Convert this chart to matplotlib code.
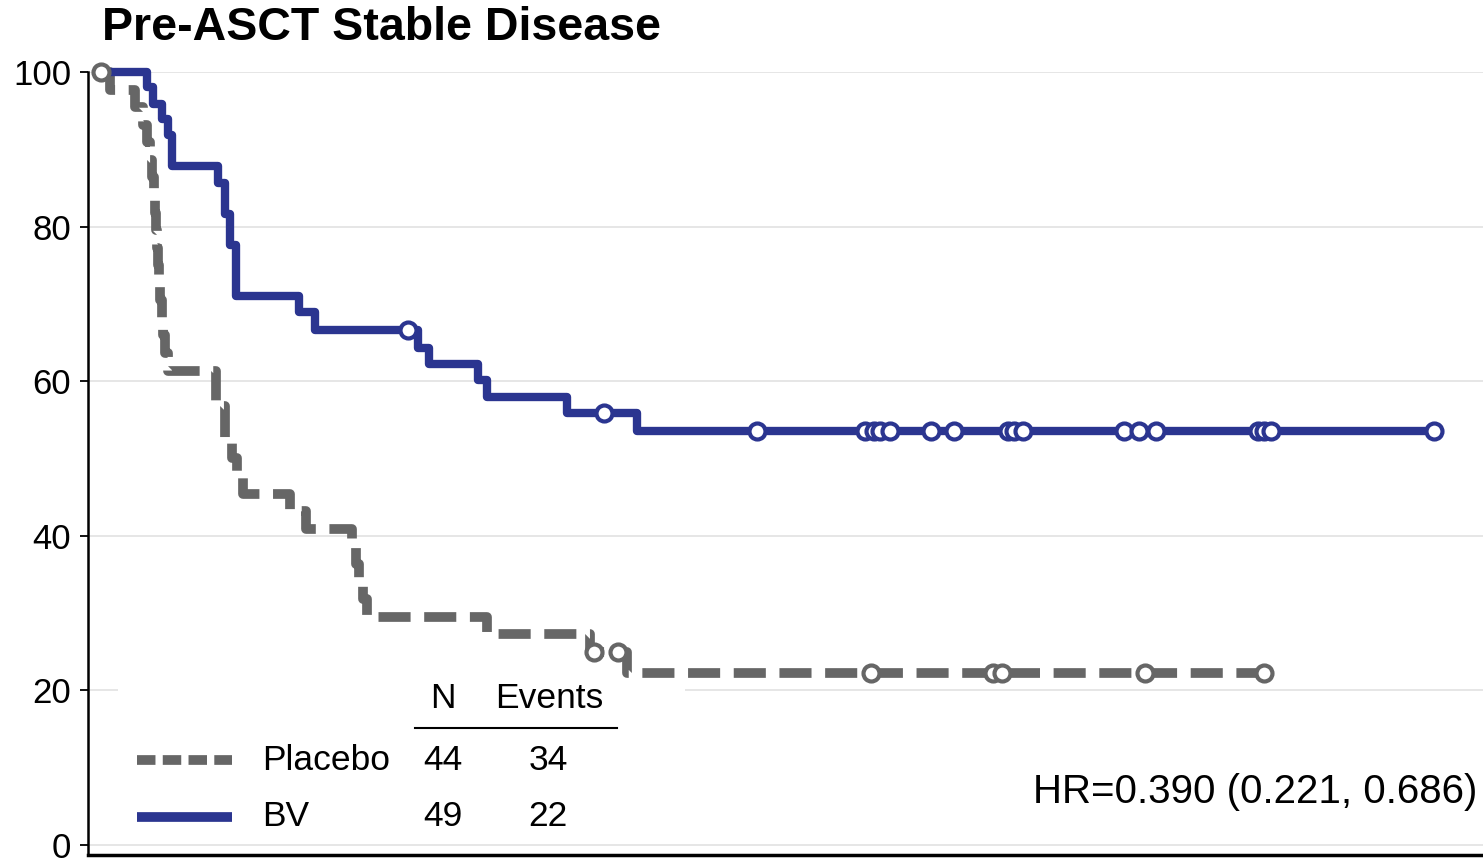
import numpy as np
import matplotlib.pyplot as plt
from matplotlib.lines import Line2D
from matplotlib.patches import Rectangle

plt.rcParams['font.family'] = ['Liberation Sans', 'DejaVu Sans']

### Data (time in months, survival in %)
# BV arm: event times and survival after each event
bv_event_t = [1.84, 2.08, 2.44, 2.68, 2.84, 4.68, 4.96, 5.16, 5.40,
              7.92, 8.56, 12.68, 13.12, 15.08, 15.44, 18.64, 21.44]
bv_surv = [98.0, 95.9, 93.9, 91.8, 87.8, 85.7, 81.6, 77.6, 71.0,
           69.0, 66.6, 64.3, 62.2, 60.1, 57.9, 55.9, 53.6]
bv_censor_t = [12.28, 20.12, 26.24, 30.56, 30.92, 31.16, 31.56, 33.20, 34.12,
               36.28, 36.52, 36.88, 40.92, 41.52, 42.20, 46.28, 46.52, 46.80, 53.32]

# Placebo arm
pl_event_t = [0.36, 1.36, 1.68, 1.84, 1.96, 2.04, 2.12, 2.16, 2.20, 2.24, 2.28,
              2.32, 2.36, 2.44, 2.48, 2.56, 2.68, 4.60, 4.96, 5.24, 5.44, 5.68,
              7.56, 8.20, 10.04, 10.20, 10.32, 10.48, 10.64, 15.44, 19.56, 21.04]
pl_surv = [97.73, 95.45, 93.18, 90.91, 88.64, 86.36, 84.09, 81.82, 79.55, 77.27,
           75.0, 72.73, 70.45, 68.18, 65.91, 63.64, 61.36, 56.82, 52.27, 50.0,
           47.73, 45.45, 43.18, 40.91, 38.64, 36.36, 34.09, 31.82, 29.55, 27.27,
           25.0, 22.22]
pl_censor_t = [0.0, 19.72, 20.68, 30.80, 35.68, 36.04, 41.76, 46.52]

groups = ['Placebo', 'BV']
n_pat = [44, 49]
n_events = [34, 22]
hr_text = 'HR=0.390 (0.221, 0.686)'
title = 'Pre-ASCT Stable Disease'

blue = '#2b3590'
grey = '#666666'

W, H = 1483, 858
fig = plt.figure(figsize=(W / 100, H / 100), dpi=100)
ax = fig.add_axes([88 / W, 3 / H, 1 - 88 / W, (855 - 72) / H])


def km_curve(ev_t, surv, cens_t):
    t = np.concatenate([[0.0], ev_t, [max(cens_t)]])
    s = np.concatenate([[100.0], surv, [surv[-1]]])
    idx = np.searchsorted(t[:-1], cens_t, side='right') - 1
    return t, s, s[idx]


# Placebo
t, s, cs = km_curve(pl_event_t, pl_surv, pl_censor_t)
ax.plot(t, s, drawstyle='steps-post', color=grey, lw=7, dashes=(3.3, 1.4),
        solid_capstyle='butt', dash_capstyle='butt', clip_on=False, zorder=3)
ax.plot(pl_censor_t, cs, 'o', ms=11.5, mfc='white', mec=grey, mew=3,
        clip_on=False, zorder=4)

# BV
t, s, cs = km_curve(bv_event_t, bv_surv, bv_censor_t)
ax.plot(t, s, drawstyle='steps-post', color=blue, lw=6, clip_on=False, zorder=3)
ax.plot(bv_censor_t, cs, 'o', ms=11.5, mfc='white', mec=blue, mew=3,
        clip_on=False, zorder=4)

ax.set_xlim(-0.52, 55.28)
ax.set_ylim(-1.3, 100)
ax.set_yticks([0, 20, 40, 60, 80, 100])
ax.tick_params(axis='y', labelsize=25, length=6, width=1.3, pad=6)
ax.set_xticks([])
ax.yaxis.grid(True, color='#e2e2e2', lw=1.2)
ax.set_axisbelow(True)
for sp in ['top', 'right']:
    ax.spines[sp].set_visible(False)
ax.spines['left'].set_linewidth(1.8)
ax.spines['bottom'].set_linewidth(2.5)

# white box behind the legend table
ax.add_patch(Rectangle(((118 - 88) / (W - 88), 0.02), (685 - 118) / (W - 88),
                       (855 - 686) / (855 - 72) - 0.02, transform=ax.transAxes,
                       facecolor='white', edgecolor='none', zorder=1))


def fx(px):
    return px / W


def fy(py):
    return 1 - py / H


# legend table
fs = 25.5
fig.text(fx(443), fy(699), 'N', fontsize=fs, ha='center', va='center')
fig.text(fx(549), fy(699), 'Events', fontsize=fs, ha='center', va='center')
fig.add_artist(Line2D([fx(415), fx(617)], [fy(728), fy(728)], color='black', lw=1.5))
row_y = [760, 817]
styles = [dict(color=grey, lw=7, dashes=(1.9, 0.75), dash_capstyle='butt'),
          dict(color=blue, lw=7, solid_capstyle='butt')]
for g, n, e, y, st in zip(groups, n_pat, n_events, row_y, styles):
    fig.add_artist(Line2D([fx(137), fx(232)], [fy(y), fy(y)], **st))
    fig.text(fx(262), fy(y), g, fontsize=fs, ha='left', va='center')
    fig.text(fx(443), fy(y), str(n), fontsize=fs, ha='center', va='center')
    fig.text(fx(548), fy(y), str(e), fontsize=fs, ha='center', va='center')

fig.text(fx(1477), fy(792), hr_text, fontsize=29, ha='right', va='center')
fig.text(fx(102), fy(28), title, fontsize=33.5, fontweight='bold', ha='left', va='center')

fig.savefig('out.png', dpi=100)
